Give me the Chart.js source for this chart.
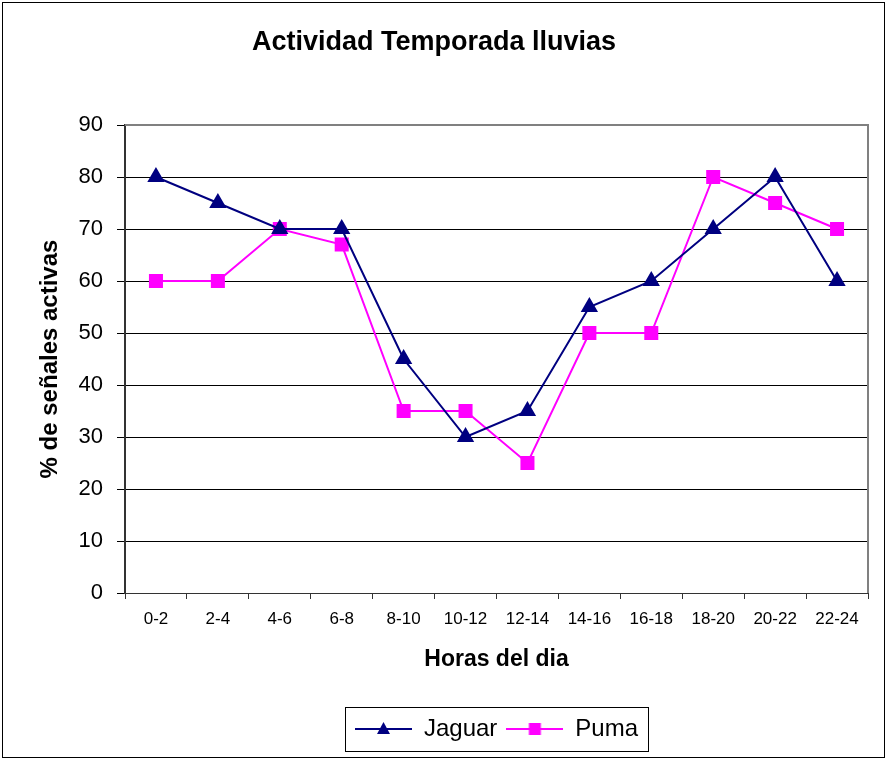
<!DOCTYPE html>
<html>
<head>
<meta charset="utf-8">
<title>Actividad Temporada lluvias</title>
<script src="https://cdn.jsdelivr.net/npm/chart.js@4/dist/chart.umd.min.js"></script>
<style>
  body { margin: 0; background: #fff; }
</style>
</head>
<body>
<canvas id="myChart" width="887" height="761"></canvas>
<script>
// hour bins
const horas = ["0-2", "2-4", "4-6", "6-8", "8-10", "10-12", "12-14", "14-16", "16-18", "18-20", "20-22", "22-24"];
// % of active signals per species
const jaguarVals = [80, 75, 70, 70, 45, 30, 35, 55, 60, 70, 80, 60];
const pumaVals = [60, 60, 70, 67, 35, 35, 25, 50, 50, 80, 75, 70];
const yTicks = [0, 10, 20, 30, 40, 50, 60, 70, 80, 90];

const font = "Arial, 'Liberation Sans', sans-serif";

// legend swatch: short line with the marker in the middle
function makeSwatch(color, style) {
  const c = document.createElement("canvas");
  c.width = 57;
  c.height = 20;
  const g = c.getContext("2d");
  g.strokeStyle = color;
  g.lineWidth = 2;
  g.beginPath();
  g.moveTo(0, 10);
  g.lineTo(57, 10);
  g.stroke();
  g.fillStyle = color;
  if (style == "triangle") {
    g.beginPath();
    g.moveTo(28.5, 3);
    g.lineTo(35, 15);
    g.lineTo(22, 15);
    g.closePath();
    g.fill();
  } else {
    g.fillRect(22.5, 4, 12, 12);
  }
  return c;
}
const swatches = [makeSwatch("#000080", "triangle"), makeSwatch("#FF00FF", "rect")];

const frame = {
  id: "frame",
  beforeDraw(chart) {
    const ctx = chart.ctx;
    ctx.save();
    ctx.fillStyle = "#fff";
    ctx.fillRect(0, 0, chart.width, chart.height);
    ctx.strokeStyle = "#000";
    ctx.lineWidth = 1;
    ctx.strokeRect(2.5, 2.5, 882, 755);
    ctx.restore();
  },
  beforeDatasetsDraw(chart) {
    const a = chart.chartArea;
    const ctx = chart.ctx;
    ctx.save();
    ctx.strokeStyle = "#808080";
    ctx.lineWidth = 2;
    ctx.beginPath();
    ctx.moveTo(a.left, a.top);
    ctx.lineTo(a.right, a.top);
    ctx.lineTo(a.right, a.bottom);
    ctx.stroke();
    ctx.restore();
  },
  afterDraw(chart) {
    // box round the legend
    const boxes = chart.legend.legendHitBoxes;
    if (!boxes || !boxes.length) return;
    let l = Infinity, r = -Infinity, t = Infinity, b = -Infinity;
    for (let h of boxes) {
      l = Math.min(l, h.left);
      r = Math.max(r, h.left + h.width);
      t = Math.min(t, h.top);
      b = Math.max(b, h.top + h.height);
    }
    const ctx = chart.ctx;
    ctx.save();
    ctx.strokeStyle = "#000";
    ctx.lineWidth = 1;
    ctx.strokeRect(Math.round(l - 10) + 0.5, Math.round(t - 10) + 0.5, Math.round(r - l + 20), Math.round(b - t + 20));
    ctx.restore();
  }
};

const ctx = document.getElementById("myChart").getContext("2d");
const myChart = new Chart(ctx, {
  type: "line",
  data: {
    labels: horas,
    datasets: [
      {
        label: "Jaguar",
        data: jaguarVals,
        borderColor: "#000080",
        backgroundColor: "#000080",
        borderWidth: 2,
        pointStyle: "triangle",
        pointRadius: 8,
        pointHoverRadius: 8,
        tension: 0,
      },
      {
        label: "Puma",
        data: pumaVals,
        borderColor: "#FF00FF",
        backgroundColor: "#FF00FF",
        borderWidth: 2,
        pointStyle: "rect",
        pointRadius: 8.5,
        pointHoverRadius: 8.5,
        tension: 0,
      },
    ],
  },
  options: {
    responsive: false,
    animation: false,
    layout: { padding: { top: 0, left: 0, right: 19, bottom: 10 } },
    plugins: {
      title: {
        display: true,
        text: "Actividad Temporada lluvias",
        color: "#000",
        font: { family: font, size: 27, weight: "bold" },
        padding: { top: 26, bottom: 66.6 },
      },
      legend: {
        position: "bottom",
        fullSize: false,
        labels: {
          usePointStyle: true,
          pointStyleWidth: 57,
          padding: 9,
          color: "#000",
          font: { family: font, size: 24 },
          generateLabels(chart) {
            return chart.data.datasets.map((ds, i) => ({
              text: ds.label,
              pointStyle: swatches[i],
              fillStyle: ds.backgroundColor,
              strokeStyle: ds.borderColor,
              lineWidth: 0,
              datasetIndex: i,
              hidden: false,
            }));
          },
        },
      },
      tooltip: { enabled: false },
    },
    scales: {
      x: {
        offset: true,
        afterFit: (scale) => { scale.height = 115; },
        grid: { offset: true, drawOnChartArea: false, drawTicks: true, tickLength: 6, color: "#333" },
        border: { color: "#333", width: 1 },
        ticks: { color: "#000", padding: 10, maxRotation: 0, font: { family: font, size: 17 } },
        title: {
          display: true,
          text: "Horas del dia",
          color: "#000",
          font: { family: font, size: 23, weight: "bold" },
          padding: { top: 0, bottom: 35 },
        },
      },
      y: {
        min: 0,
        max: 90,
        afterFit: (scale) => { scale.width = 125; },
        afterBuildTicks: (scale) => { scale.ticks = yTicks.map((v) => ({ value: v })); },
        grid: { color: "#000", lineWidth: 1, tickLength: 8 },
        border: { color: "#333", width: 2 },
        ticks: { color: "#000", padding: 14, font: { family: font, size: 22 } },
        title: {
          display: true,
          text: "% de señales activas",
          color: "#000",
          font: { family: font, size: 24, weight: "bold" },
          padding: { top: 36, bottom: 0 },
        },
      },
    },
  },
  plugins: [frame],
});
</script>
</body>
</html>
